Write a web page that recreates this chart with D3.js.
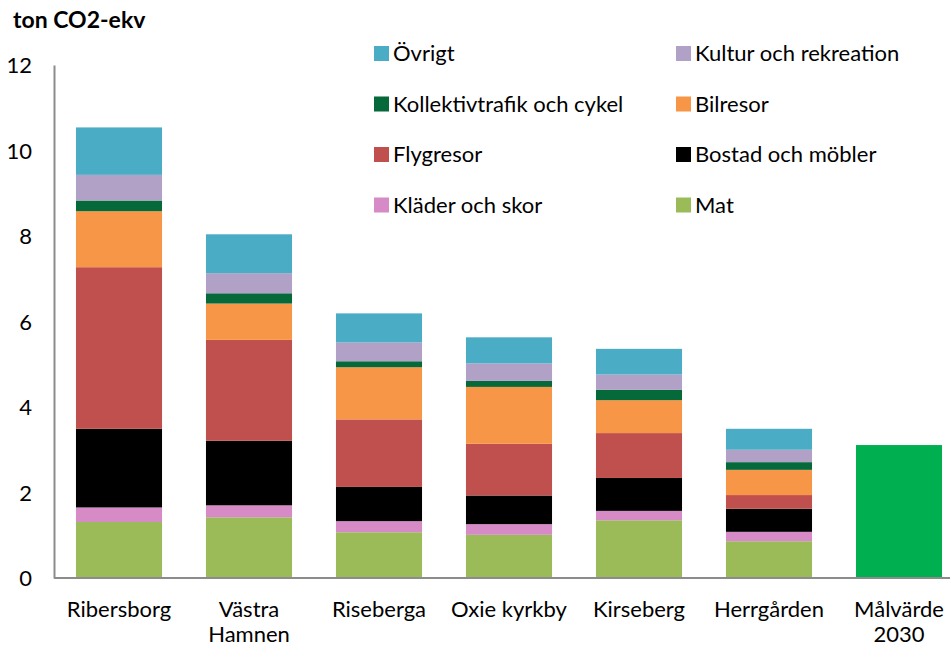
<!DOCTYPE html>
<html>
<head>
<meta charset="utf-8">
<script src="https://d3js.org/d3.v7.min.js"></script>
<style>
  body { margin: 0; background: #fff; }
  text { font-family: Lato, "Open Sans", sans-serif; fill: #000; }
</style>
</head>
<body>
<script>
// districts (x categories)
var categories = ["Ribersborg", "Västra Hamnen", "Riseberga", "Oxie kyrkby", "Kirseberg", "Herrgården", "Målvärde 2030"];
var tickLines = [["Ribersborg"], ["Västra", "Hamnen"], ["Riseberga"], ["Oxie kyrkby"], ["Kirseberg"], ["Herrgården"], ["Målvärde", "2030"]];

// series, bottom to top (ton CO2-ekv per person)
var keys = ["Mat", "Kläder och skor", "Bostad och möbler", "Flygresor", "Bilresor", "Kollektivtrafik och cykel", "Kultur och rekreation", "Övrigt"];
var mat        = [1.31, 1.42, 1.07, 1.01, 1.35, 0.86, 0];
var klader     = [0.34, 0.28, 0.26, 0.25, 0.22, 0.22, 0];
var bostad     = [1.84, 1.51, 0.80, 0.67, 0.77, 0.54, 0];
var flyg       = [3.78, 2.36, 1.58, 1.21, 1.05, 0.32, 0];
var bil        = [1.31, 0.85, 1.22, 1.33, 0.77, 0.59, 0];
var kollektiv  = [0.25, 0.24, 0.14, 0.14, 0.24, 0.18, 0];
var kultur     = [0.60, 0.47, 0.44, 0.41, 0.36, 0.29, 0];
var ovrigt     = [1.11, 0.91, 0.68, 0.61, 0.60, 0.49, 0];
var target     = [0, 0, 0, 0, 0, 0, 3.11];

var colors = ["#9bbb59", "#d68bc7", "#000000", "#c0504d", "#f79646", "#05693a", "#b2a1c7", "#4bacc6"];
var targetColor = "#00b050";

// legend order as in the picture (two columns)
var legendOrder = ["Övrigt", "Kultur och rekreation", "Kollektivtrafik och cykel", "Bilresor", "Flygresor", "Bostad och möbler", "Kläder och skor", "Mat"];

var yTicks = [0, 2, 4, 6, 8, 10, 12];

var series = [mat, klader, bostad, flyg, bil, kollektiv, kultur, ovrigt];
var rows = categories.map(function(c, i) {
  var r = { name: c };
  keys.forEach(function(k, j) { r[k] = series[j][i]; });
  return r;
});

var width = 950, height = 648;
var svg = d3.select("body").append("svg")
  .attr("width", width)
  .attr("height", height);

var x = d3.scaleBand()
  .domain(categories)
  .range([54, 964])
  .paddingInner(0.338)
  .paddingOuter(0.169);

var y = d3.scaleLinear()
  .domain([0, 12])
  .range([578, 65]);

var stack = d3.stack().keys(keys)(rows);

svg.selectAll("g.layer")
  .data(stack)
  .enter()
  .append("g")
  .attr("class", "layer")
  .attr("fill", function(d, i) { return colors[i]; })
  .selectAll("rect")
  .data(function(d) { return d; })
  .enter()
  .append("rect")
  .attr("x", function(d) { return x(d.data.name); })
  .attr("y", function(d) { return y(d[1]); })
  .attr("width", x.bandwidth())
  .attr("height", function(d) { return y(d[0]) - y(d[1]); });

// target bar
svg.selectAll("rect.target")
  .data(categories.filter(function(c, i) { return target[i] > 0; }))
  .enter()
  .append("rect")
  .attr("class", "target")
  .attr("x", function(d) { return x(d); })
  .attr("y", function(d) { return y(target[categories.indexOf(d)]); })
  .attr("width", x.bandwidth())
  .attr("height", function(d) { return y(0) - y(target[categories.indexOf(d)]); })
  .attr("fill", targetColor);

// y axis
var yAxis = svg.append("g")
  .attr("transform", "translate(54,0)")
  .call(d3.axisLeft(y).tickValues(yTicks).tickSize(0).tickPadding(22));
yAxis.select(".domain").attr("stroke", "#8c8c8c").attr("stroke-width", 2);
yAxis.selectAll("text")
  .style("font-family", "Lato, sans-serif")
  .style("font-size", "22px")
  .attr("dy", "0.36em");

// x axis line
svg.append("line")
  .attr("x1", 54).attr("x2", 950)
  .attr("y1", y(0)).attr("y2", y(0))
  .attr("stroke", "#8c8c8c")
  .attr("stroke-width", 2);

// x labels
var xl = svg.selectAll("text.xlab")
  .data(categories)
  .enter()
  .append("text")
  .attr("class", "xlab")
  .attr("text-anchor", "middle")
  .style("font-size", "22px")
  .attr("transform", function(d) { return "translate(" + (x(d) + x.bandwidth() / 2) + ",617)"; });
xl.selectAll("tspan")
  .data(function(d, i) { return tickLines[i]; })
  .enter()
  .append("tspan")
  .attr("x", 0)
  .attr("dy", function(d, i) { return i === 0 ? 0 : 25; })
  .text(function(d) { return d; });

// unit title
svg.append("text")
  .attr("x", 13)
  .attr("y", 28)
  .style("font-size", "23px")
  .style("font-weight", "bold")
  .text("ton CO2-ekv");

// legend
var legend = svg.selectAll("g.legend")
  .data(legendOrder)
  .enter()
  .append("g")
  .attr("class", "legend")
  .attr("transform", function(d, i) {
    var col = i % 2, row = Math.floor(i / 2);
    return "translate(" + (col === 0 ? 374 : 676) + "," + (46 + row * 50.5) + ")";
  });
legend.append("rect")
  .attr("width", 15)
  .attr("height", 15)
  .attr("fill", function(d) { return colors[keys.indexOf(d)]; });
legend.append("text")
  .attr("x", 19)
  .attr("y", 15)
  .style("font-size", "22px")
  .text(function(d) { return d; });
</script>
</body>
</html>
